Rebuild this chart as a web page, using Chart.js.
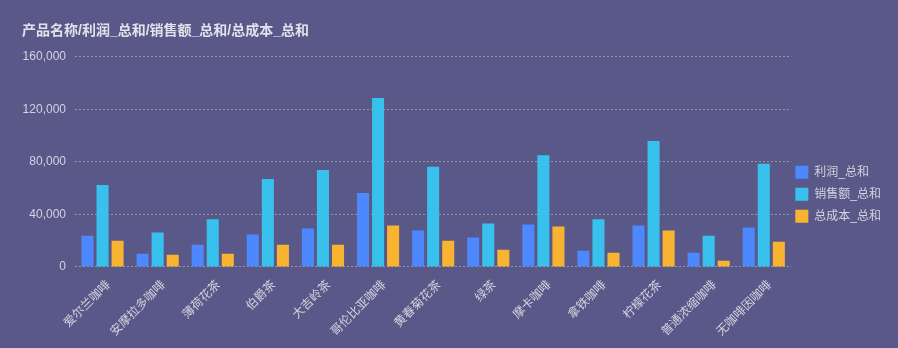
<!DOCTYPE html>
<html>
<head>
<meta charset="utf-8">
<script src="https://cdn.jsdelivr.net/npm/chart.js@4/dist/chart.umd.min.js"></script>
<style>
  html, body { margin: 0; padding: 0; background: #5a5888; }
  #wrap { width: 898px; height: 348px; }
</style>
</head>
<body>
<div id="wrap"><canvas id="chart"></canvas></div>
<script>
// 数据
const categories = ['爱尔兰咖啡', '安摩拉多咖啡', '薄荷花茶', '伯爵茶', '大吉岭茶', '哥伦比亚咖啡', '黄春菊花茶', '绿茶', '摩卡咖啡', '拿铁咖啡', '柠檬花茶', '普通浓缩咖啡', '无咖啡因咖啡'];
const profit = [23800, 10000, 16900, 24600, 29200, 56200, 27700, 22300, 32300, 12300, 31500, 10800, 30000];
const sales = [62300, 26200, 36200, 66900, 73800, 128700, 76200, 33000, 85100, 36200, 95800, 23800, 78500];
const cost = [20000, 9200, 10000, 16900, 16900, 31500, 20000, 13000, 30800, 10800, 27700, 4600, 19200];
const seriesNames = ['利润_总和', '销售额_总和', '总成本_总和'];
const yTicks = [0, 40000, 80000, 120000, 160000];

const FONT = "'Liberation Sans', 'Noto Sans CJK SC', sans-serif";
const textColor = '#d4d3e0';
const gridColor = 'rgb(150, 150, 158)';

// 图例稍微往左挪一点
const legendShift = {
    id: 'legendShift',
    afterUpdate(chart) {
        const lg = chart.legend;
        lg.left -= 5;
        lg.right -= 5;
        (lg.legendHitBoxes || []).forEach(b => { b.left -= 5; });
    }
};

const ctx = document.getElementById('chart').getContext('2d');
new Chart(ctx, {
    type: 'bar',
    data: {
        labels: categories,
        datasets: [
            { label: seriesNames[0], data: profit, backgroundColor: '#4d88ff' },
            { label: seriesNames[1], data: sales, backgroundColor: '#38c1ec' },
            { label: seriesNames[2], data: cost, backgroundColor: '#f8b430' }
        ]
    },
    plugins: [legendShift],
    options: {
        responsive: true,
        maintainAspectRatio: false,
        animation: false,
        categoryPercentage: 0.82,
        barPercentage: 0.8,
        layout: { padding: { left: 22, right: 2, top: 0, bottom: 6 } },
        plugins: {
            title: {
                display: true,
                text: '产品名称/利润_总和/销售额_总和/总成本_总和',
                align: 'start',
                color: '#e2e1ec',
                font: { family: FONT, size: 14, weight: 'bold' },
                padding: { top: 23, bottom: 17 }
            },
            legend: {
                position: 'right',
                title: { display: true, text: ' ', padding: 16, font: { size: 12 } },
                labels: {
                    color: textColor,
                    boxWidth: 13,
                    boxHeight: 13,
                    padding: 9,
                    font: { family: FONT, size: 12 }
                }
            },
            tooltip: { enabled: false }
        },
        scales: {
            x: {
                grid: { display: false },
                border: { display: false },
                afterFit: (axis) => { axis.paddingLeft = 0; axis.paddingRight = 0; },
                ticks: {
                    color: textColor,
                    minRotation: 45,
                    maxRotation: 45,
                    autoSkip: false,
                    labelOffset: 6,
                    font: { family: FONT, size: 12 }
                }
            },
            y: {
                min: yTicks[0],
                max: yTicks[yTicks.length - 1],
                afterBuildTicks: (axis) => { axis.ticks = yTicks.map(v => ({ value: v })); },
                afterFit: (axis) => { axis.width = 53; },
                grid: { color: gridColor, lineWidth: 1, drawTicks: false },
                border: { display: false, dash: [2, 2] },
                ticks: {
                    color: textColor,
                    padding: 9,
                    font: { family: FONT, size: 12 },
                    callback: (v) => v.toLocaleString('en-US')
                }
            }
        }
    }
});
</script>
</body>
</html>
